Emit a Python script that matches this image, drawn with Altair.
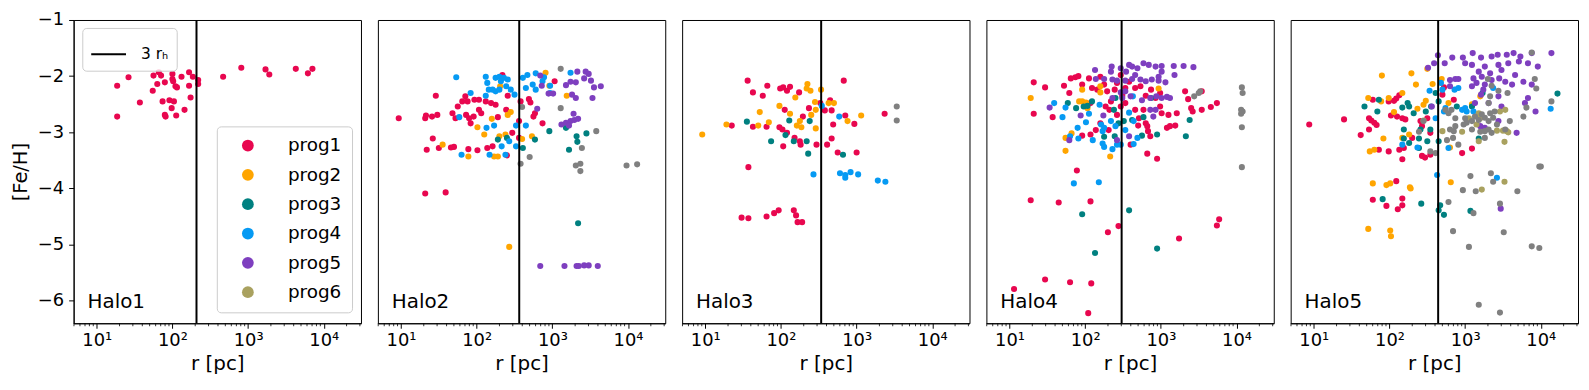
import altair as alt
import pandas as pd

# ---------------- data (log10 r [pc], [Fe/H]) ----------------
GROUPS = ["prog1", "prog2", "prog3", "prog4", "prog5", "prog6", "other"]
COLORS = ["#e8074f", "#ffa500", "#008080", "#069af3", "#7e3fbf", "#a9a15f", "#808080"]
HALOS = ["Halo1", "Halo2", "Halo3", "Halo4", "Halo5"]
RH3 = [208, 365, 340, 303, 440]  # 3 r_h in pc
MAJOR_TICKS = [10, 100, 1000, 10000]
MINOR_TICKS = [5, 6, 7, 8, 9, 20, 30, 40, 50, 60, 70, 80, 90,
               200, 300, 400, 500, 600, 700, 800, 900,
               2000, 3000, 4000, 5000, 6000, 7000, 8000, 9000, 20000, 30000]
Y_TICKS = [-1, -2, -3, -4, -5, -6]
X_DOMAIN = [4.95, 31000]
Y_DOMAIN = [-6.4, -1]

H1_P1 = [(1.27,-2.17),(1.27,-2.72),(1.42,-2.02),(1.57,-2.47),(1.75,-1.99),(1.74,-2.26),(1.80,-2.14),(1.82,-1.93),
         (1.85,-1.99),(1.87,-2.45),(1.90,-2.11),(1.91,-2.72),(1.90,-2.69),(1.96,-2.43),(1.99,-2.57),(2.00,-1.96),
         (2.00,-2.05),(2.01,-2.09),(2.02,-2.45),(2.04,-2.18),(2.06,-2.20),(2.05,-2.70),(2.12,-2.01),(2.16,-2.60),
         (2.22,-1.93),(2.22,-2.17),(2.24,-2.38),(2.27,-2.01),(2.34,-2.07),(2.34,-2.14),(2.67,-2.01),(2.91,-1.85),
         (3.23,-1.88),(3.28,-1.97),(3.63,-1.87),(3.79,-1.95),(3.85,-1.87)]

H2_P1 = [(0.97,-2.75),(1.32,-2.75),(1.33,-2.70),(1.41,-2.72),(1.48,-2.69),(1.46,-2.35),(1.42,-3.11),(1.34,-3.31),
         (1.50,-3.28),(1.66,-3.27),(1.70,-3.26),(1.68,-2.66),(1.72,-2.75),(1.75,-2.54),(1.85,-2.36),(1.88,-2.45),
         (1.90,-2.75),(1.92,-2.84),(1.89,-3.30),(2.01,-3.32),(1.96,-2.72),(2.03,-2.60),(2.03,-2.42),(1.97,-2.42),
         (2.12,-2.45),(2.06,-2.66),(2.19,-2.48),(2.25,-2.51),(2.28,-2.73),(2.14,-3.28),(2.21,-3.25),(2.39,-2.60),
         (2.41,-2.35),(2.34,-1.98),(2.47,-3.01),(2.56,-2.80),(2.56,-3.10),(2.58,-2.45),(2.69,-2.41),(2.71,-2.47),
         (2.75,-2.72),(2.77,-2.66),(2.87,-2.84),(3.03,-2.09),(2.40,-3.41),(1.86,-2.69),(1.81,-2.45),(1.32,-4.09),
         (1.59,-4.07)]
H2_P2 = [(1.55,-3.22),(1.89,-3.43),(2.01,-2.91),(2.10,-3.04),(2.20,-2.76),(2.23,-3.43),(2.28,-3.43),(2.30,-3.07),
         (2.38,-3.04),(2.41,-2.69),(2.45,-2.64),(2.31,-2.18),(2.60,-3.12),(2.73,-3.07),(2.91,-1.94),(2.96,-2.17),
         (3.19,-2.35),(2.43,-5.04)]
H2_P3 = [(2.28,-3.13),(2.61,-3.28),(2.77,-3.13),(2.96,-2.98),(3.18,-2.92),(3.32,-3.07),(3.33,-3.17),(3.45,-3.02),
         (3.22,-3.31),(2.40,-3.10),(3.34,-4.62)]
H2_P4 = [(1.73,-2.02),(1.92,-2.30),(1.77,-2.73),(1.80,-3.40),(2.12,-2.01),(2.14,-2.12),(2.16,-2.24),(2.12,-2.35),
         (2.13,-2.92),(2.23,-2.88),(2.25,-2.03),(2.30,-2.01),(2.32,-2.09),(2.36,-2.03),(2.41,-2.06),(2.25,-2.27),
         (2.30,-2.24),(2.21,-2.24),(2.45,-2.24),(2.50,-2.33),(2.39,-2.18),(2.33,-3.25),(2.43,-3.16),(2.38,-3.40),
         (2.52,-3.25),(2.52,-2.88),(2.65,-2.88),(2.17,-3.40),(2.61,-2.03),(2.67,-1.98),(2.78,-1.95),(2.89,-2.02),
         (2.65,-2.21),(2.74,-2.15),(2.78,-2.24),(2.87,-2.09),(2.97,-2.17),(3.24,-1.94),(2.97,-2.30)]
H2_P5 = [(2.84,-1.99),(2.86,-2.17),(2.95,-2.31),(3.01,-2.31),(2.80,-2.58),(3.18,-2.16),(3.24,-2.10),(3.31,-2.11),
         (3.33,-1.92),(3.44,-1.92),(3.48,-1.96),(3.42,-2.04),(3.51,-2.08),(3.55,-2.20),(3.64,-2.18),(3.53,-2.39),
         (3.26,-2.33),(3.31,-2.39),(3.28,-2.67),(3.12,-2.86),(3.18,-2.83),(3.24,-2.80),(3.29,-2.78),(3.34,-2.76),
         (3.22,-2.88),(2.84,-5.38),(3.16,-5.38),(3.32,-5.38),(3.35,-5.38),(3.42,-5.37),(3.48,-5.37),(3.60,-5.38)]
H2_OTHER = [(3.11,-1.87),(3.11,-2.57),(2.60,-2.55),(3.39,-3.28),(3.58,-2.98),(2.70,-3.44),(2.58,-3.56),(3.31,-3.59),
            (3.37,-3.56),(3.37,-3.69),(3.98,-3.59),(4.12,-3.57)]

H3_P1 = [(1.56,-2.08),(1.63,-2.29),(1.76,-2.35),(1.82,-2.17),(1.35,-2.88),(1.63,-2.90),(1.81,-2.90),(1.98,-2.91),
         (2.02,-2.95),(2.08,-3.01),(1.99,-2.22),(2.03,-2.20),(2.08,-2.26),(2.12,-2.19),(2.05,-2.60),(2.24,-2.29),
         (2.29,-2.72),(2.18,-3.10),(2.25,-3.16),(2.26,-3.22),(2.03,-3.25),(2.37,-2.57),(2.47,-3.22),(2.52,-2.48),
         (2.58,-2.61),(2.65,-2.43),(2.67,-2.61),(2.69,-2.86),(2.67,-3.11),(2.61,-3.22),(2.75,-3.36),(2.85,-2.70),
         (2.83,-2.08),(2.97,-2.85),(3.00,-3.36),(3.37,-2.67),(1.57,-3.62),(1.48,-4.52),(1.57,-4.53),(1.81,-4.50),
         (1.91,-4.44),(1.97,-4.39),(2.17,-4.39),(2.20,-4.48),(2.22,-4.60),(2.28,-4.60)]
H3_P2 = [(0.96,-3.04),(1.28,-2.86),(1.70,-2.88),(1.72,-2.64),(1.84,-2.82),(1.98,-2.53),(2.12,-2.67),(2.19,-2.38),
         (2.21,-2.88),(2.25,-2.80),(2.27,-2.91),(2.35,-2.14),(2.34,-2.22),(2.39,-2.26),(2.40,-2.69),(2.45,-2.46),
         (2.46,-2.60),(2.46,-2.93),(2.53,-2.24),(2.63,-2.48),(2.70,-2.48),(2.88,-2.80),(3.06,-2.70)]
H3_P3 = [(1.55,-2.81),(1.87,-3.16),(2.06,-3.05),(2.11,-2.79),(2.17,-3.16),(2.34,-3.16),(2.36,-3.38),(2.38,-2.80),
         (2.82,-3.40)]
H3_P4 = [(2.54,-2.53),(2.77,-2.72),(2.43,-3.75),(2.78,-3.73),(2.85,-3.76),(2.85,-3.81),(2.92,-3.71),(3.02,-3.75),
         (3.28,-3.86),(3.38,-3.88)]
H3_OTHER = [(3.53,-2.54),(3.53,-2.79)]

H4_P1 = [(1.32,-2.11),(1.47,-2.20),(1.72,-2.17),(1.79,-2.30),(1.32,-2.67),(1.57,-2.73),(1.81,-2.04),(1.87,-2.02),
         (1.91,-2.00),(1.96,-2.15),(2.05,-2.04),(2.09,-2.21),(2.16,-2.24),(2.20,-2.01),(2.25,-2.15),(2.29,-2.27),
         (2.34,-2.45),(2.39,-2.24),(2.42,-2.12),(2.47,-1.98),(2.49,-2.35),(2.53,-2.21),(2.58,-2.10),(2.66,-2.21),
         (2.73,-2.18),(2.80,-2.35),(2.87,-2.24),(2.93,-2.39),(2.99,-2.30),(2.27,-2.54),(2.32,-2.60),(2.42,-2.69),
         (2.47,-2.54),(2.53,-2.48),(2.66,-2.60),(2.77,-2.60),(2.71,-2.75),(2.80,-2.84),(2.82,-2.89),(2.83,-2.98),
         (2.86,-3.07),(2.70,-2.88),(2.07,-3.04),(2.14,-2.96),(2.31,-2.96),(1.96,-3.06),(2.60,-3.22),(2.82,-3.38),
         (2.95,-3.47),(2.99,-2.54),(3.01,-2.66),(3.10,-2.69),(3.12,-2.89),(3.08,-2.92),(3.19,-2.88),(3.21,-2.66),
         (3.32,-2.27),(3.36,-2.41),(3.40,-2.57),(3.42,-2.63),(3.54,-2.60),(3.54,-2.27),(3.66,-2.55),(3.74,-2.48),
         (2.20,-2.84),(2.07,-2.48),(1.28,-4.21),(1.65,-4.25),(2.07,-4.23),(1.89,-3.68),(2.30,-4.78),(2.44,-4.67),
         (3.24,-4.89),(3.74,-4.66),(3.77,-4.55),(1.06,-5.79),(1.47,-5.62),(1.80,-5.67),(2.08,-5.69),(2.04,-6.22)]
H4_P2 = [(1.28,-2.39),(1.96,-2.24),(1.92,-2.45),(1.96,-2.45),(2.01,-2.47),(2.03,-2.57),(2.20,-2.18),(2.20,-2.29),
         (1.74,-3.10),(1.82,-3.02),(1.74,-3.33),(2.33,-3.43),(2.97,-2.22)]
H4_P3 = [(1.77,-2.48),(1.88,-2.57),(1.98,-2.54),(2.03,-2.53),(2.09,-2.45),(2.38,-2.60),(2.40,-2.39),(2.44,-2.84),
         (2.51,-2.80),(2.62,-2.78),(2.77,-2.73),(2.25,-3.08),(2.39,-3.07),(2.75,-3.06),(2.95,-3.04),(2.87,-2.39),
         (3.33,-3.07),(3.38,-2.78),(1.96,-4.46),(2.58,-4.39),(2.13,-5.15),(2.95,-5.07)]
H4_P4 = [(1.59,-2.48),(1.74,-2.56),(1.70,-2.73),(1.90,-2.92),(2.01,-2.82),(2.05,-2.67),(2.19,-2.51),(2.21,-2.86),
         (2.25,-2.92),(2.23,-2.98),(2.34,-2.80),(2.40,-2.89),(1.80,-3.07),(1.91,-3.11),(2.10,-3.14),(2.23,-3.20),
         (2.25,-3.26),(2.36,-3.30),(2.42,-3.22),(2.47,-3.22),(2.53,-2.96),(2.58,-2.65),(2.64,-2.80),(2.63,-2.36),
         (2.69,-3.10),(2.64,-3.21),(1.85,-3.91),(2.18,-3.89)]
H4_P5 = [(1.53,-2.56),(1.79,-3.14),(1.94,-2.70),(2.13,-1.89),(2.24,-2.70),(2.14,-2.05),(2.25,-2.05),(2.34,-1.92),
         (2.35,-1.83),(2.47,-1.86),(2.58,-1.80),(2.62,-1.83),(2.69,-1.86),(2.66,-1.98),(2.77,-1.77),(2.84,-1.80),
         (2.93,-1.83),(3.01,-1.82),(3.01,-1.92),(2.97,-2.01),(3.17,-1.82),(3.30,-1.82),(3.43,-1.84),(3.18,-1.98),
         (2.36,-2.06),(2.42,-2.08),(2.53,-2.08),(2.62,-2.05),(2.73,-2.06),(2.80,-2.09),(2.88,-2.06),(2.97,-2.08),
         (3.06,-2.11),(2.47,-2.29),(2.53,-2.27),(2.60,-2.36),(2.36,-2.39),(2.49,-2.39),(2.75,-2.43),(2.86,-2.39),
         (2.94,-2.36),(3.01,-2.39),(3.08,-2.37),(3.12,-2.39),(2.86,-2.60),(2.90,-2.72),(2.93,-2.60),(2.42,-3.14),
         (2.58,-3.07),(2.54,-1.92)]
H4_OTHER = [(4.07,-2.20),(4.08,-2.30),(4.06,-2.60),(4.08,-2.63),(4.06,-2.67),(4.07,-2.91),(4.07,-3.62),(3.44,-2.36),
            (3.50,-2.30),(3.52,-2.27)]

H5_P1 = [(0.94,-2.86),(1.40,-2.77),(1.78,-2.42),(1.62,-3.05),(1.73,-2.75),(1.76,-2.79),(1.80,-2.83),(1.83,-2.87),
         (1.73,-2.95),(1.86,-3.31),(1.99,-3.34),(1.99,-2.45),(2.06,-2.44),(2.09,-2.40),(2.13,-2.34),(2.02,-2.70),
         (2.10,-2.72),(2.17,-2.75),(2.21,-2.77),(2.13,-3.31),(2.19,-3.28),(2.30,-3.10),(2.41,-2.80),(2.43,-2.89),
         (2.50,-2.75),(2.43,-3.42),(2.47,-3.45),(2.54,-3.01),(2.54,-3.40),(2.72,-2.20),(2.70,-2.33),(2.85,-2.42),
         (2.96,-3.37),(3.09,-3.29),(2.17,-3.48),(2.09,-3.87),(1.78,-4.20),(1.96,-4.31),(2.11,-4.37),(2.17,-4.18),
         (2.17,-4.30)]
H5_P2 = [(1.90,-1.99),(1.72,-2.39),(2.29,-1.95),(2.35,-2.15),(2.50,-1.87),(2.69,-2.05),(2.17,-2.30),(1.99,-2.39),
         (1.89,-2.45),(2.06,-2.64),(2.37,-2.58),(2.48,-2.44),(2.45,-2.51),(2.57,-2.14),(2.78,-2.48),(1.92,-3.11),
         (1.74,-3.34),(1.80,-3.31),(2.26,-3.04),(2.17,-3.10),(2.80,-3.27),(3.09,-2.50),(3.20,-2.36),(1.78,-3.91),
         (1.96,-3.94),(2.01,-3.91),(2.27,-3.98),(2.28,-4.00),(1.72,-4.72),(2.01,-4.75),(2.02,-4.85),(2.81,-3.89)]
H5_P3 = [(1.67,-2.54),(1.86,-2.42),(1.84,-2.63),(2.24,-2.48),(2.26,-2.54),(2.17,-2.56),(2.32,-2.66),(2.48,-2.63),
         (2.55,-2.54),(2.61,-2.30),(2.65,-2.45),(2.19,-2.95),(2.41,-2.95),(2.54,-2.95),(2.19,-3.11),(2.39,-3.11),
         (2.50,-3.16),(2.26,-3.19),(2.39,-3.28),(2.65,-3.16),(2.89,-2.54),(3.09,-2.54),(3.23,-2.30),(3.18,-3.11),
         (4.22,-2.31),(1.91,-4.19),(2.42,-4.27),(2.67,-4.30),(2.65,-4.39),(2.72,-4.47),(3.07,-4.40)]
H5_P4 = [(2.53,-2.26),(2.68,-2.12),(2.70,-2.24),(2.86,-2.24),(2.91,-2.21),(2.72,-2.63),(2.74,-2.57),(2.96,-2.60),
         (3.00,-2.57),(3.02,-2.63),(3.11,-2.63),(3.37,-2.21),(2.61,-2.75),(2.78,-3.28),(2.17,-3.22),(2.37,-3.27),
         (4.13,-2.58),(2.63,-3.76),(3.42,-3.81)]
H5_P5 = [(2.51,-1.85),(2.59,-1.77),(2.64,-1.63),(2.73,-1.77),(2.83,-1.67),(2.97,-1.67),(3.10,-1.59),(3.21,-1.67),
         (3.35,-1.65),(3.43,-1.62),(3.55,-1.62),(3.64,-1.59),(3.73,-1.65),(3.88,-1.59),(4.14,-1.59),(3.00,-1.77),
         (3.09,-1.80),(3.26,-1.83),(3.44,-1.80),(3.57,-1.77),(3.71,-1.74),(3.83,-1.77),(3.96,-1.83),(3.18,-1.92),
         (3.33,-1.95),(3.48,-1.89),(3.66,-1.98),(3.11,-2.04),(3.22,-2.01),(3.35,-2.07),(3.53,-2.10),(3.77,-2.10),
         (3.88,-2.15),(2.80,-2.07),(2.87,-2.05),(2.91,-2.05),(3.15,-2.12),(3.26,-2.15),(3.45,-2.04),(3.62,-2.15),
         (2.80,-2.18),(3.09,-2.18),(3.24,-2.24),(3.21,-2.33),(3.31,-2.48),(3.44,-2.36),(3.48,-2.54),(3.13,-2.48),
         (3.83,-2.39),(3.79,-2.48),(3.93,-2.63),(3.68,-3.01),(3.20,-2.89),(3.26,-2.92),(3.44,-2.80),(2.56,-2.54),
         (3.47,-4.36)]
H5_P6 = [(2.45,-2.79),(2.70,-2.98),(2.96,-2.99),(3.18,-3.16),(3.42,-2.97),(3.50,-2.97),(3.55,-2.98),(3.52,-3.17),
         (3.46,-2.63),(3.53,-2.60),(3.18,-2.66),(3.20,-2.75),(3.15,-2.86),(3.05,-2.75),(3.57,-3.00),(3.22,-4.02),
         (3.52,-3.88)]
H5_OTHER = [(3.88,-1.58),(3.30,-2.05),(3.35,-2.17),(3.44,-2.26),(3.56,-2.30),(3.33,-2.36),(3.31,-2.48),(3.92,-2.05),
            (3.94,-2.22),(4.14,-2.45),(3.81,-2.56),(3.77,-2.72),(2.74,-2.60),(2.78,-2.66),(2.82,-2.60),(2.87,-2.75),
            (2.87,-2.89),(3.00,-2.75),(3.02,-2.83),(2.98,-2.86),(3.09,-2.80),(3.13,-2.72),(3.18,-2.78),(3.22,-2.68),
            (3.26,-2.74),(3.31,-2.80),(3.33,-2.66),(3.37,-2.74),(3.39,-2.63),(3.42,-2.86),(3.31,-2.95),(3.26,-2.98),
            (3.20,-2.99),(3.09,-2.95),(3.35,-3.01),(3.26,-3.10),(2.80,-2.95),(2.85,-2.98),(2.76,-3.14),(2.84,-3.10),
            (2.91,-3.22),(2.61,-3.37),(2.54,-3.34),(2.39,-2.99),(2.45,-2.80),(3.59,-2.80),(3.53,-2.95),(2.78,-4.24),
            (2.84,-4.76),(2.97,-4.03),(3.07,-3.78),(3.14,-4.05),(3.11,-4.44),(3.05,-5.04),(3.34,-3.73),(3.37,-3.88),
            (3.46,-4.27),(3.51,-4.78),(3.69,-4.05),(3.88,-5.03),(3.98,-5.06),(3.98,-3.61),(4.00,-3.61),(3.18,-6.07),
            (3.46,-6.21)]

HALO_DATA = {
    "Halo1": {"prog1": H1_P1},
    "Halo2": {"prog1": H2_P1, "prog2": H2_P2, "prog3": H2_P3, "prog4": H2_P4, "prog5": H2_P5, "other": H2_OTHER},
    "Halo3": {"prog1": H3_P1, "prog2": H3_P2, "prog3": H3_P3, "prog4": H3_P4, "other": H3_OTHER},
    "Halo4": {"prog1": H4_P1, "prog2": H4_P2, "prog3": H4_P3, "prog4": H4_P4, "prog5": H4_P5, "other": H4_OTHER},
    "Halo5": {"prog1": H5_P1, "prog2": H5_P2, "prog3": H5_P3, "prog4": H5_P4, "prog5": H5_P5, "prog6": H5_P6,
              "other": H5_OTHER},
}

rows = []
for halo, groups in HALO_DATA.items():
    for g, pts in groups.items():
        for lr, feh in pts:
            rows.append({"halo": halo, "group": g, "order": GROUPS.index(g), "r": 10 ** lr, "feh": feh})
df = pd.DataFrame(rows)

FONT = "DejaVu Sans"
W, H = 289, 305
RH_LABEL = "3 r\u2095"

X_LABEL_EXPR = ("datum.value == 10 ? '10\u00b9' : datum.value == 100 ? '10\u00b2' : "
                "datum.value == 1000 ? '10\u00b3' : '10\u2074'")


def panel(i):
    name = HALOS[i]
    first = i == 0
    xscale = alt.Scale(type="log", domain=X_DOMAIN, nice=False)
    yscale = alt.Scale(domain=Y_DOMAIN, nice=False, zero=False)
    xaxis = alt.Axis(values=MAJOR_TICKS, labelExpr=X_LABEL_EXPR, title="r [pc]", grid=False,
                     tickSize=5, tickColor="black", domainColor="black", labelFontSize=18,
                     titleFontSize=20, labelPadding=3, titlePadding=5)
    if first:
        yaxis = alt.Axis(values=Y_TICKS, title="[Fe/H]", grid=False, tickSize=5, format="d",
                         tickColor="black", domainColor="black", labelFontSize=18,
                         titleFontSize=19.5, labelPadding=5, titlePadding=7)
        color_legend = alt.Legend(title=None, orient="none", legendX=144, legendY=107,
                                  values=GROUPS[:6], symbolType="circle", symbolSize=140,
                                  labelFontSize=18.5, labelFont=FONT, labelColor="black",
                                  rowPadding=10.5, labelOffset=31, padding=10, symbolOffset=12,
                                  strokeColor="#cccccc", fillColor="rgba(255,255,255,0.8)",
                                  cornerRadius=4, symbolStrokeWidth=0, symbolOpacity=1)
        dash_legend = alt.Legend(title=None, orient="none", legendX=8.7, legendY=8,
                                 symbolType="stroke", symbolSize=1225, symbolStrokeWidth=2,
                                 symbolStrokeColor="black", labelFontSize=15.5, labelFont=FONT,
                                 labelColor="black", labelOffset=14, padding=8,
                                 strokeColor="#cccccc", fillColor="rgba(255,255,255,0.8)",
                                 cornerRadius=4)
    else:
        yaxis = None
        color_legend = None
        dash_legend = None

    d = df[df.halo == name]
    pts = alt.Chart(d).mark_circle(size=38, opacity=1).encode(
        x=alt.X("r:Q", scale=xscale, axis=xaxis, title="r [pc]"),
        y=alt.Y("feh:Q", scale=yscale, axis=yaxis, title="[Fe/H]"),
        color=alt.Color("group:N", scale=alt.Scale(domain=GROUPS, range=COLORS), legend=color_legend),
        order=alt.Order("order:Q"),
    )
    rule = alt.Chart(pd.DataFrame({"rh": [RH3[i]], "lab": [RH_LABEL]})).mark_rule(
        color="black", strokeWidth=2).encode(
        x=alt.X("rh:Q", title="r [pc]"),
        strokeDash=alt.StrokeDash("lab:N", scale=alt.Scale(domain=[RH_LABEL], range=[[1, 0]]),
                                  legend=dash_legend),
    )
    minor = alt.Chart(pd.DataFrame({"v": MINOR_TICKS})).mark_rule(
        color="black", strokeWidth=0.8).encode(
        x=alt.X("v:Q", title="r [pc]"),
        y=alt.value(H),
        y2=alt.value(H + 3),
    )
    txt = alt.Chart(pd.DataFrame({"t": [name]})).mark_text(
        align="left", baseline="alphabetic", fontSize=20, font=FONT, color="black").encode(
        x=alt.value(14), y=alt.value(290), text="t:N")
    return alt.layer(pts, rule, minor, txt).properties(width=W, height=H)


chart = alt.hconcat(*[panel(i) for i in range(5)], spacing=15).resolve_scale(
    color="independent", strokeDash="independent"
).properties(
    padding={"left": 1, "top": 1, "right": 2, "bottom": 2}
).configure_view(
    stroke="black", strokeWidth=1
).configure_axis(
    labelFont=FONT, titleFont=FONT, titleFontWeight="normal", labelColor="black", titleColor="black"
).configure_text(font=FONT)

chart.save("out.html", embed_options={"renderer": "svg", "actions": False})
